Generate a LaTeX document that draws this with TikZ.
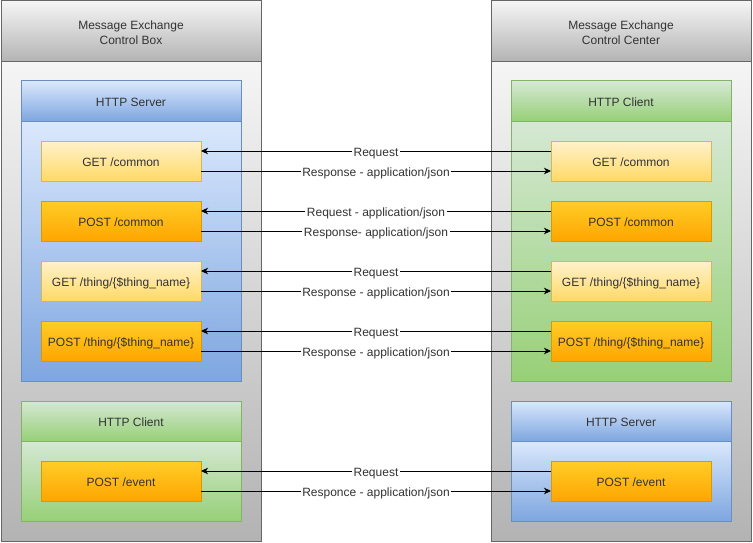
\documentclass[tikz,border=0pt]{standalone}
\usepackage{fontspec}
\setmainfont{Liberation Sans}
\usetikzlibrary{arrows.meta,calc}
\definecolor{txt}{HTML}{333333}
\definecolor{grayS}{HTML}{666666}
\definecolor{grayA}{HTML}{F5F5F5}
\definecolor{grayB}{HTML}{B3B3B3}
\definecolor{blueS}{HTML}{6C8EBF}
\definecolor{blueA}{HTML}{DAE8FC}
\definecolor{blueB}{HTML}{7EA6E0}
\definecolor{greenS}{HTML}{82B366}
\definecolor{greenA}{HTML}{D5E8D4}
\definecolor{greenB}{HTML}{97D077}
\definecolor{yelS}{HTML}{D6B656}
\definecolor{yelA}{HTML}{FFF2CC}
\definecolor{yelB}{HTML}{FFD966}
\definecolor{orS}{HTML}{D79B00}
\definecolor{orA}{HTML}{FFCD28}
\definecolor{orB}{HTML}{FFA500}
\tikzset{
  base/.style={rectangle, inner sep=0pt, outer sep=0pt, line width=1pt, text=txt, font=\fontsize{12}{15}\selectfont, align=center, text height=11pt, text depth=0pt},
  graybox/.style={base, draw=grayS, top color=grayA, bottom color=grayB},
  bluebox/.style={base, draw=blueS, top color=blueA, bottom color=blueB},
  greenbox/.style={base, draw=greenS, top color=greenA, bottom color=greenB},
  yelbox/.style={base, draw=yelS, top color=yelA, bottom color=yelB, minimum width=160pt, minimum height=40pt},
  orbox/.style={base, draw=orS, top color=orA, bottom color=orB, minimum width=160pt, minimum height=40pt},
  conn/.style={line width=1pt, -{Stealth[length=7pt,width=6.5pt,inset=2pt]}},
  lbl/.style={fill=white, text=txt, font=\fontsize{12}{14}\selectfont, inner xsep=1.5pt, inner ysep=0pt, text height=11.6pt, text depth=0pt},
  hdrtxt/.style={text=txt, font=\fontsize{12}{15}\selectfont, align=center, inner sep=0pt, yshift=-1.5pt}
}
\begin{document}
\begin{tikzpicture}[x=1pt,y=-1pt]
\fill[white] (0,0) rectangle (753,543);
\useasboundingbox (0,0) rectangle (753,543);
% left outer
\node[graybox, minimum width=260pt, minimum height=479pt] (lob) at (131,301.5) {};
\node[graybox, minimum width=260pt, minimum height=61pt,
  label={[hdrtxt]center:Message Exchange\\Control Box}] (loh) at (131,31.5) {};
% right outer
\node[graybox, minimum width=260pt, minimum height=479pt] (rob) at (621,301.5) {};
\node[graybox, minimum width=260pt, minimum height=61pt,
  label={[hdrtxt]center:Message Exchange\\Control Center}] (roh) at (621,31.5) {};
% left server
\node[bluebox, minimum width=220pt, minimum height=260pt] (lsb) at (131,251) {};
\node[bluebox, minimum width=220pt, minimum height=40pt] (lsh) at (131,101) {HTTP Server};
% left client
\node[greenbox, minimum width=220pt, minimum height=80pt] (lcb) at (131,481) {};
\node[greenbox, minimum width=220pt, minimum height=40pt] (lch) at (131,421) {HTTP Client};
% right client
\node[greenbox, minimum width=220pt, minimum height=260pt] (rcb) at (621,251) {};
\node[greenbox, minimum width=220pt, minimum height=40pt] (rch) at (621,101) {HTTP Client};
% right server
\node[bluebox, minimum width=220pt, minimum height=80pt] (rsb) at (621,481) {};
\node[bluebox, minimum width=220pt, minimum height=40pt] (rsh) at (621,421) {HTTP Server};
% left items
\node[yelbox] (l1) at (121,161) {GET /common};
\node[orbox]  (l2) at (121,221) {POST /common};
\node[yelbox] (l3) at (121,281) {GET /thing/\{\$thing\_name\}};
\node[orbox]  (l4) at (121,341) {POST /thing/\{\$thing\_name\}};
\node[orbox]  (l5) at (121,481) {POST /event};
% right items
\node[yelbox] (r1) at (631,161) {GET /common};
\node[orbox]  (r2) at (631,221) {POST /common};
\node[yelbox] (r3) at (631,281) {GET /thing/\{\$thing\_name\}};
\node[orbox]  (r4) at (631,341) {POST /thing/\{\$thing\_name\}};
\node[orbox]  (r5) at (631,481) {POST /event};
% connectors
\draw[conn] ([yshift=10pt]r1.west) -- node[lbl] {Request} ([yshift=10pt]l1.east);
\draw[conn] ([yshift=-10pt]l1.east) -- node[lbl] {Response - application/json} ([yshift=-10pt]r1.west);
\draw[conn] ([yshift=10pt]r2.west) -- node[lbl] {Request - application/json} ([yshift=10pt]l2.east);
\draw[conn] ([yshift=-10pt]l2.east) -- node[lbl] {Response- application/json} ([yshift=-10pt]r2.west);
\draw[conn] ([yshift=10pt]r3.west) -- node[lbl] {Request} ([yshift=10pt]l3.east);
\draw[conn] ([yshift=-10pt]l3.east) -- node[lbl] {Response - application/json} ([yshift=-10pt]r3.west);
\draw[conn] ([yshift=10pt]r4.west) -- node[lbl] {Request} ([yshift=10pt]l4.east);
\draw[conn] ([yshift=-10pt]l4.east) -- node[lbl] {Response - application/json} ([yshift=-10pt]r4.west);
\draw[conn] ([yshift=10pt]r5.west) -- node[lbl] {Request} ([yshift=10pt]l5.east);
\draw[conn] ([yshift=-10pt]l5.east) -- node[lbl] {Responce - application/json} ([yshift=-10pt]r5.west);
\end{tikzpicture}
\end{document}
